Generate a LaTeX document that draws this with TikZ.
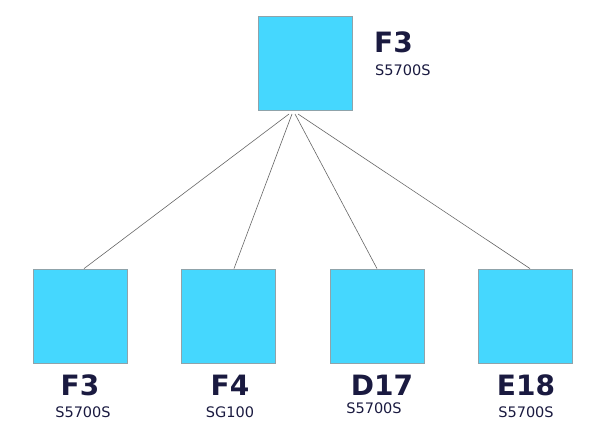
\documentclass[tikz,border=0pt]{standalone}
\usepackage{fontspec}
\setmainfont{DejaVu Sans}
\usepackage{tikz}
\usetikzlibrary{positioning}

\definecolor{boxcyan}{HTML}{45D7FE}
\definecolor{boxedge}{HTML}{8FA3AA}
\definecolor{labelink}{HTML}{1A1A40}

\begin{document}
\begin{tikzpicture}[x=1pt, y=-1pt,
	switchbox/.style={draw=boxedge, line width=0.8pt, fill=boxcyan, minimum size=94pt, inner sep=0pt},
	bigname/.style={font=\fontsize{28}{28}\bfseries\selectfont, text=labelink, inner sep=0pt},
	model/.style={font=\fontsize{14.5}{14.5}\selectfont, text=labelink, inner sep=0pt},
	link/.style={draw=black!60, line width=0.6pt}]

	\useasboundingbox (0,0) rectangle (600,436);

	%top switch

	\node[switchbox] (core) at (305,63) {};
	\node[bigname, anchor=base west] (corename) at (374,53) {F3};
	\node[model, anchor=base west] (coremodel) at (375,75) {S5700S};

	\coordinate (h1) at (289,114);
	\coordinate (h2) at (292,114);
	\coordinate (h3) at (295,114);
	\coordinate (h4) at (298,114);

	%bottom switches

	\node[switchbox] (s1) at (80,316) {};
	\node[switchbox] (s2) at (228,316) {};
	\node[switchbox] (s3) at (377,316) {};
	\node[switchbox] (s4) at (525,316) {};

	\node[bigname, anchor=base] (n1) at (80,395) {F3};
	\node[bigname, anchor=base] (n2) at (230,395) {F4};
	\node[bigname, anchor=base] (n3) at (382,395) {D17};
	\node[bigname, anchor=base] (n4) at (526,395) {E18};

	\node[model, anchor=base] (m1) at (83,417) {S5700S};
	\node[model, anchor=base] (m2) at (230,417) {SG100};
	\node[model, anchor=base] (m3) at (374,413) {S5700S};
	\node[model, anchor=base] (m4) at (526,417) {S5700S};

	%links

	\draw[link] (h1) -- ([xshift=4pt]s1.north);
	\draw[link] (h2) -- ([xshift=6pt]s2.north);
	\draw[link] (h3) -- (s3.north);
	\draw[link] (h4) -- ([xshift=5pt]s4.north);

\end{tikzpicture}
\end{document}
